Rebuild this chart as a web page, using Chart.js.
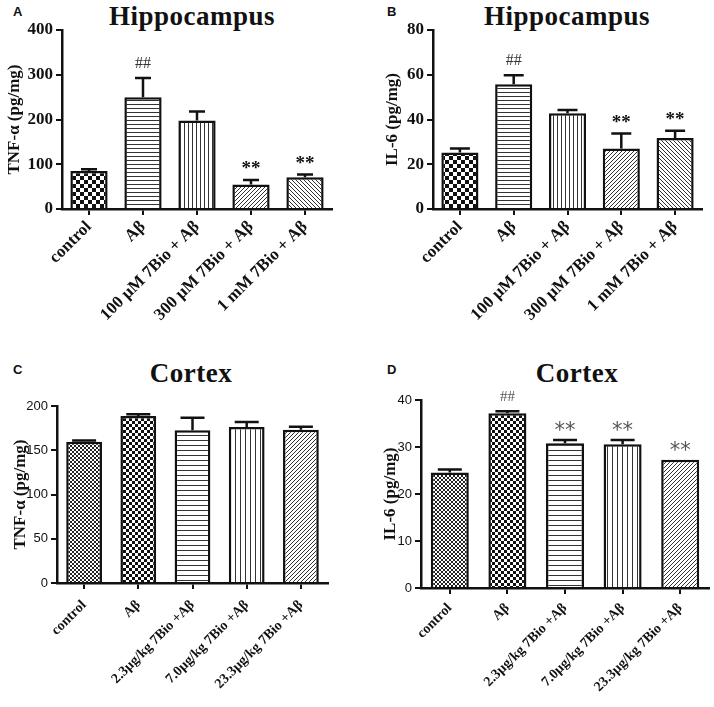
<!DOCTYPE html>
<html><head><meta charset="utf-8">
<script src="https://cdn.jsdelivr.net/npm/chart.js@4"></script>
<style>
html,body{margin:0;padding:0;background:#fff;}
#wrap{position:relative;width:714px;height:707px;overflow:hidden;background:#fff;}
canvas{position:absolute;}
.t{position:absolute;font-family:'Liberation Serif','Times New Roman',serif;font-weight:bold;font-size:27px;line-height:27px;letter-spacing:0.5px;white-space:nowrap;text-align:center;width:240px;color:#111;}
.l{position:absolute;font-family:'Liberation Sans',Arial,sans-serif;font-weight:bold;font-size:13px;line-height:13px;color:#111;}
</style></head>
<body><div id="wrap">
<div class="l" style="left:13px;top:5px">A</div>
<div class="l" style="left:387px;top:5px">B</div>
<div class="l" style="left:13px;top:363px">C</div>
<div class="l" style="left:387px;top:363px">D</div>
<div class="t" style="left:72px;top:3px">Hippocampus</div>
<div class="t" style="left:447px;top:3px">Hippocampus</div>
<div class="t" style="left:71px;top:360px">Cortex</div>
<div class="t" style="left:457px;top:360px">Cortex</div>
<canvas id="cA" width="357" height="350" style="left:0px;top:0px"></canvas>
<canvas id="cB" width="357" height="350" style="left:357px;top:0px"></canvas>
<canvas id="cC" width="357" height="352" style="left:0px;top:355px"></canvas>
<canvas id="cD" width="357" height="352" style="left:357px;top:355px"></canvas>
</div>
<script>
// ---------- data ----------
const hippoGroups = ['control', 'Aβ', '100 µM 7Bio + Aβ', '300 µM 7Bio + Aβ', '1 mM 7Bio + Aβ'];
const cortexGroups = ['control', 'Aβ', '2.3µg/kg 7Bio +Aβ', '7.0µg/kg 7Bio +Aβ', '23.3µg/kg 7Bio +Aβ'];

const tnfHippo = [85, 250, 198, 55, 71];
const tnfHippoErr = [4, 43, 20, 10, 6];
const il6Hippo = [25.3, 55.7, 42.8, 27.0, 31.7];
const il6HippoErr = [1.7, 4.1, 1.4, 6.7, 3.3];
const tnfCortex = [159.6, 188.7, 172.5, 176.2, 173.2];
const tnfCortexErr = [1.5, 1.9, 14.3, 5.7, 3.4];
const il6Cortex = [24.6, 37.2, 30.8, 30.6, 27.3];
const il6CortexErr = [0.6, 0.4, 0.7, 0.9, 0];

const sigHippo = ['', '##', '', '**', '**'];
const sigCortexTnf = ['', '', '', '', ''];
const sigCortexIl6 = ['', '##', '**', '**', '**'];

const ticksTnfHippo = {max: 400, step: 100};
const ticksIl6Hippo = {max: 80, step: 20};
const ticksTnfCortex = {max: 200, step: 50};
const ticksIl6Cortex = {max: 40, step: 10};

// ---------- styling ----------
const SERIF = "'Liberation Serif', 'Times New Roman', serif";
const SANS = "'Liberation Sans', Arial, sans-serif";
const INK = '#111';

function pat(kind, p, ink) {
  const c = document.createElement('canvas');
  c.width = p; c.height = p;
  const g = c.getContext('2d');
  g.fillStyle = '#fff'; g.fillRect(0, 0, p, p);
  g.fillStyle = ink; g.strokeStyle = ink;
  if (kind === 'check') { const h = p / 2; g.fillRect(0, 0, h, h); g.fillRect(h, h, h, h); }
  else if (kind === 'h') g.fillRect(0, 0, p, 1);
  else if (kind === 'v') g.fillRect(0, 0, 1, p);
  else {
    g.lineWidth = 1;
    g.beginPath();
    for (let k = -1; k <= 1; k++) {
      if (kind === 'd') { g.moveTo(k * p, p); g.lineTo(k * p + p, 0); }
      else { g.moveTo(k * p, 0); g.lineTo(k * p + p, p); }
    }
    g.stroke();
  }
  return g.createPattern(c, 'repeat');
}

const hippoFills = [pat('check', 8, '#111'), pat('h', 4, '#333'), pat('v', 4, '#333'), pat('d', 4, '#333'), pat('a', 4, '#333')];
const cortexFills = [pat('check', 4, '#222'), pat('check', 6, '#111'), pat('h', 5, '#333'), pat('v', 5, '#333'), pat('d', 4, '#333')];

function errPlugin(err, sig, st) {
  return {
    id: 'errAnno',
    afterDatasetsDraw(chart) {
      const ctx = chart.ctx;
      const meta = chart.getDatasetMeta(0);
      const ys = chart.scales.y;
      const vals = chart.data.datasets[0].data;
      ctx.save();
      meta.data.forEach((bar, i) => {
        const x = bar.x;
        const top = ys.getPixelForValue(vals[i]);
        const ey = ys.getPixelForValue(vals[i] + err[i]);
        if (err[i] > 0) {
          ctx.strokeStyle = INK; ctx.lineWidth = st.lw;
          ctx.beginPath();
          ctx.moveTo(x, top); ctx.lineTo(x, ey);
          ctx.moveTo(x - st.cap / 2, ey); ctx.lineTo(x + st.cap / 2, ey);
          ctx.stroke();
        }
        const s = sig[i];
        if (s) {
          const isHash = s.indexOf('#') >= 0;
          const f = isHash ? st.hash : st.star;
          ctx.font = f.font; ctx.fillStyle = f.color;
          ctx.textAlign = 'center'; ctx.textBaseline = 'alphabetic';
          ctx.fillText(s, x, ey - f.gap);
        }
      });
      ctx.restore();
    }
  };
}

function build(id, c) {
  new Chart(document.getElementById(id), {
    type: 'bar',
    data: {
      labels: c.labels,
      datasets: [{
        data: c.values,
        backgroundColor: c.fills,
        borderColor: INK,
        borderWidth: 2.5,
        barPercentage: c.barPct,
        categoryPercentage: 1
      }]
    },
    options: {
      responsive: false,
      animation: false,
      events: [],
      layout: {padding: {left: 0, right: c.padRight, top: c.padTop, bottom: 0}},
      plugins: {legend: {display: false}, tooltip: {enabled: false}, title: {display: false}},
      scales: {
        x: {
          offset: true,
          grid: {offset: false, drawOnChartArea: false, drawTicks: true, tickLength: 6, color: INK, lineWidth: 2},
          border: {display: true, color: INK, width: 2.5},
          ticks: {maxRotation: 45, minRotation: 45, autoSkip: false, padding: c.xPad, color: INK,
                  font: {family: SERIF, size: c.xFont, weight: 'bold'}},
          afterFit(s) { s.height = c.xH; }
        },
        y: {
          min: 0, max: c.ticks.max,
          ticks: {stepSize: c.ticks.step, color: INK, padding: 3, font: c.yFont},
          grid: {drawOnChartArea: false, drawTicks: true, tickLength: 6, color: INK, lineWidth: 2},
          border: {display: true, color: INK, width: 2.5},
          title: {display: true, text: c.yTitle, color: INK,
                  font: {family: SERIF, size: 17, weight: 'bold'}, padding: {top: c.titlePad, bottom: 0}},
          afterFit(s) { s.width = c.yW; }
        }
      }
    },
    plugins: [errPlugin(c.err, c.sig, c.st)]
  });
}

const stHippo = {
  lw: 2.5, cap: 16,
  hash: {font: '16px ' + SERIF, color: '#333', gap: 10},
  star: {font: 'bold 19px ' + SERIF, color: INK, gap: 6}
};
const stCortex = {
  lw: 2.5, cap: 24,
  hash: {font: '15px ' + SERIF, color: '#555', gap: 10},
  star: {font: '21px ' + "'DejaVu Sans', sans-serif", color: '#555', gap: 3}
};

build('cA', {labels: hippoGroups, values: tnfHippo, err: tnfHippoErr, sig: sigHippo, fills: hippoFills,
  ticks: ticksTnfHippo, yTitle: 'TNF-α (pg/mg)', yFont: {family: SERIF, size: 17, weight: 'bold'},
  xFont: 17, xPad: 2, xH: 141, yW: 62, padTop: 30, padRight: 25, barPct: 0.69, titlePad: 4, st: stHippo});
build('cB', {labels: hippoGroups, values: il6Hippo, err: il6HippoErr, sig: sigHippo, fills: hippoFills,
  ticks: ticksIl6Hippo, yTitle: 'IL-6 (pg/mg)', yFont: {family: SERIF, size: 17, weight: 'bold'},
  xFont: 17, xPad: 2, xH: 141, yW: 76, padTop: 30, padRight: 12, barPct: 0.69, titlePad: 25,
  st: Object.assign({}, stHippo, {cap: 20})});
build('cC', {labels: cortexGroups, values: tnfCortex, err: tnfCortexErr, sig: sigCortexTnf, fills: cortexFills,
  ticks: ticksTnfCortex, yTitle: 'TNF-α (pg/mg)', yFont: {family: SANS, size: 13},
  xFont: 14, xPad: 8, xH: 124, yW: 57, padTop: 51, padRight: 29, barPct: 0.66, titlePad: 10, st: stCortex});
build('cD', {labels: cortexGroups, values: il6Cortex, err: il6CortexErr, sig: sigCortexIl6, fills: cortexFills,
  ticks: ticksIl6Cortex, yTitle: 'IL-6 (pg/mg)', yFont: {family: SANS, size: 13},
  xFont: 14, xPad: 6, xH: 119, yW: 64, padTop: 45, padRight: 5, barPct: 0.66, titlePad: 23, st: stCortex});
</script>
</body></html>
